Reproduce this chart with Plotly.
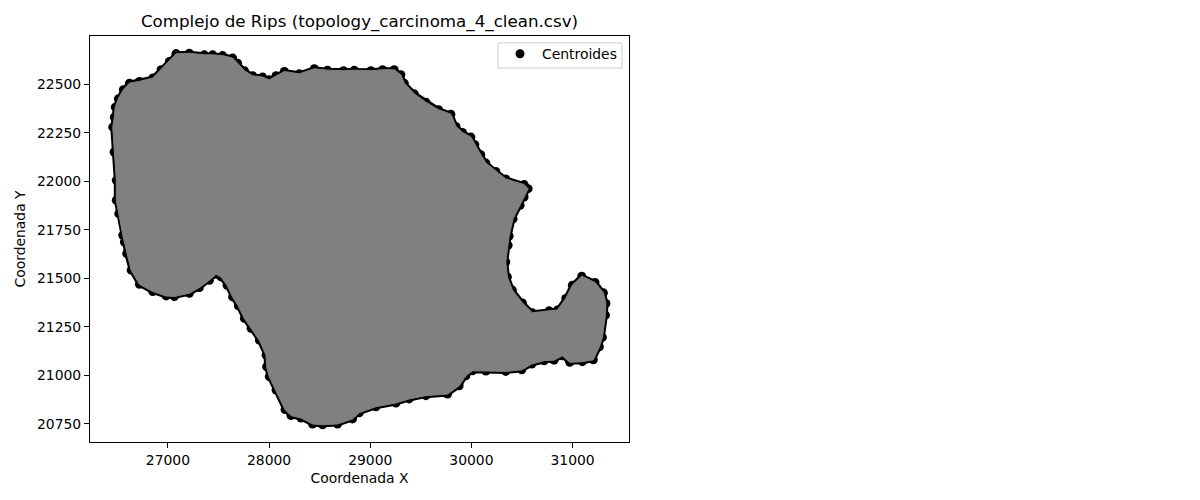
import plotly.graph_objects as go

centroid_x = [27081, 27212, 27360, 27442, 27541, 27640, 27689, 27756, 27838, 27936, 28002, 28069,
              28151, 28299, 28447, 28578, 28736, 28842, 29007, 29122, 29237, 29303, 29336, 29435,
              29550, 29675, 29797, 29847, 29912, 29995, 30034, 30093, 30143, 30241, 30340, 30521,
              30561, 30521, 30482, 30412, 30373, 30363, 30340, 30356, 30405, 30504, 30603, 30768,
              30850, 30933, 30998, 31091, 31222, 31305, 31330, 31325, 31295, 31265, 31205, 31097,
              30972, 30899, 30817, 30719, 30597, 30498, 30340, 30143, 30010, 29945, 29879, 29764,
              29550, 29385, 29254, 29056, 28891, 28825, 28677, 28529, 28430, 28316, 28217, 28158,
              28069, 28002, 27976, 27970, 27904, 27822, 27756, 27696, 27640, 27585, 27525, 27476,
              27410, 27311, 27212, 27064, 26982, 26850, 26719, 26637, 26593, 26570, 26554, 26514,
              26490, 26490, 26468, 26455, 26470, 26480, 26510, 26560, 26620, 26719, 26850, 26933,
              27015, 27081]
centroid_y = [22658, 22661, 22653, 22653, 22649, 22636, 22610, 22571, 22545, 22538, 22524, 22545,
              22567, 22555, 22581, 22574, 22571, 22574, 22571, 22576, 22576, 22550, 22507, 22452,
              22409, 22370, 22347, 22284, 22253, 22229, 22190, 22138, 22095, 22052, 22013, 21984,
              21963, 21920, 21877, 21808, 21718, 21671, 21585, 21508, 21440, 21374, 21323, 21333,
              21337, 21397, 21465, 21512, 21479, 21426, 21371, 21311, 21196, 21148, 21081, 21071,
              21068, 21101, 21079, 21076, 21059, 21029, 21021, 21023, 21024, 20998, 20947, 20904,
              20896, 20879, 20858, 20839, 20808, 20776, 20750, 20746, 20750, 20781, 20793, 20824,
              20925, 20994, 21045, 21105, 21182, 21243, 21294, 21359, 21405, 21465, 21508, 21522,
              21491, 21453, 21424, 21407, 21410, 21433, 21470, 21543, 21629, 21688, 21723, 21834,
              21903, 22006, 22152, 22280, 22332, 22383, 22426, 22473, 22507, 22516, 22533, 22576,
              22619, 22658]

x_ticks = [27000, 28000, 29000, 30000, 31000]
y_ticks = [20750, 21000, 21250, 21500, 21750, 22000, 22250, 22500]
FONT = "DejaVu Sans"

fig = go.Figure()
fig.add_trace(go.Scatter(x=centroid_x, y=centroid_y, mode="lines+markers", showlegend=False,
                         line=dict(color="black", width=5),
                         marker=dict(color="black", size=9), hoverinfo="skip"))
fig.add_trace(go.Scatter(x=centroid_x, y=centroid_y, mode="lines", fill="toself",
                         fillcolor="#808080", line=dict(color="#808080", width=1),
                         showlegend=False, hoverinfo="skip"))
fig.add_trace(go.Scatter(x=[None], y=[None], mode="markers", name="Centroides",
                         marker=dict(color="black", size=9)))

axis_common = dict(showgrid=False, zeroline=False, showline=True, mirror=True, linecolor="black",
                   linewidth=1, ticks="outside", ticklen=5, tickwidth=1, tickcolor="black",
                   tickfont=dict(family=FONT, size=13.9, color="black"))
fig.update_layout(
    width=1200, height=500, autosize=False, paper_bgcolor="white", plot_bgcolor="white",
    margin=dict(l=81.5, r=579, t=27.5, b=66),
    font=dict(family=FONT, color="black", size=13.9),
    title=dict(text="Complejo de Rips (topology_carcinoma_4_clean.csv)", xref="paper", x=0.5,
               xanchor="center", yref="container", y=0.974, yanchor="middle",
               font=dict(family=FONT, size=16.7, color="black")),
    xaxis=dict(range=[26230, 31558], tickvals=x_ticks, ticktext=[str(v) for v in x_ticks],
               title=dict(text="Coordenada X", font=dict(family=FONT, size=13.9), standoff=6),
               **axis_common),
    yaxis=dict(range=[20657, 22750], tickvals=y_ticks, ticktext=[str(v) for v in y_ticks],
               title=dict(text="Coordenada Y", font=dict(family=FONT, size=13.9), standoff=8),
               **axis_common),
    legend=dict(x=0.757, y=0.955, xanchor="left", yanchor="middle", bgcolor="rgba(0,0,0,0)",
                borderwidth=0, font=dict(family=FONT, size=13.9), itemwidth=34),
    shapes=[dict(type="rect", xref="x domain", yref="y domain", x0=0.757, x1=0.987,
                 y0=0.921, y1=0.983, line=dict(color="#cccccc", width=1), fillcolor="white",
                 layer="below")],
)
fig.write_html("out.html")
